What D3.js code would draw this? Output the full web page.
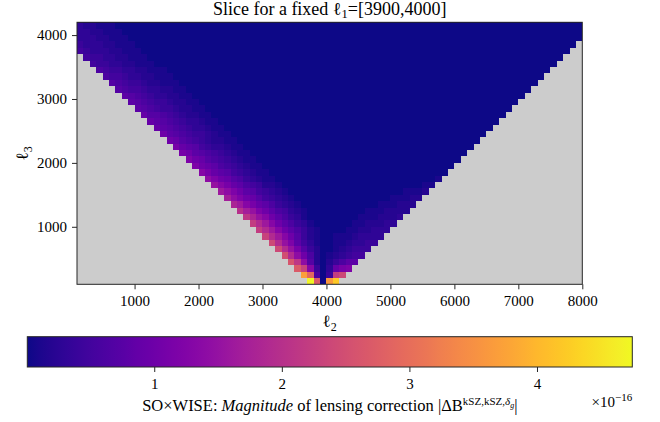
<!DOCTYPE html>
<html><head><meta charset="utf-8">
<script src="https://cdn.jsdelivr.net/npm/d3@7"></script>
<style>
body{margin:0;background:#fff}
svg{display:block}
text{font-family:"Liberation Serif","DejaVu Serif",serif;fill:#000}
</style>
</head><body>
<svg id="chart" width="660" height="422"></svg>
<script>
// ---- data -------------------------------------------------------------
// colour-scale limits (units of 1e-16)
const vmin = 0.005, vmax = 4.747;
// one character per cell: index in levelChars = value in tenths (x1e-16); "." = no valid triangle (grey)
const levelChars = "0123456789ABCDEFGHIJKLMNOPQRSTUVWXYZabcdefghijkl";
const ell2Range = [100, 8000];
const ell3Range = [100, 4200];
const binWidth = 100;
// rows from top (ell3 = 4100-4200) to bottom (ell3 = 100-200); "c{n}" = n repeats of c
const rows = [
  "322111000" + "0{70}",
  "3322111000" + "0{69}",
  "33322111000" + "0{68}",
  "433322111000" + "0{66}" + ".",
  "5433322111000" + "0{64}" + ".{2}",
  ".{1}5443322111000" + "0{62}" + ".{3}",
  ".{2}5443322111000" + "0{60}" + ".{4}",
  ".{3}6544332211100" + "0{58}" + ".{5}",
  ".{4}6554332211100" + "0{56}" + ".{6}",
  ".{5}7654432211100" + "0{54}" + ".{7}",
  ".{6}7655433221100" + "0{52}" + ".{8}",
  ".{7}8765433221100" + "0{50}" + ".{9}",
  ".{8}8765443221100" + "0{48}" + ".{10}",
  ".{9}8765443221100" + "0{46}" + ".{11}",
  ".{10}9776543221100" + "0{44}" + ".{12}",
  ".{11}9876543321100" + "0{42}" + ".{13}",
  ".{12}9876543321100" + "0{40}" + ".{14}",
  ".{13}A876544321100" + "0{38}" + ".{15}",
  ".{14}A97654322110" + "0{37}" + ".{16}",
  ".{15}B98754332110" + "0{35}" + ".{17}",
  ".{16}BA8765432110" + "0{33}" + ".{18}",
  ".{17}CA9765432110" + "0{31}" + ".{19}",
  ".{18}CA9865432110" + "0{29}" + ".{20}",
  ".{19}DB9875432110" + "0{27}" + ".{21}",
  ".{20}ECA976432110" + "0{24}1" + ".{22}",
  ".{21}FDB986542210" + "0{21}11" + ".{23}",
  ".{22}GECA87543210" + "0{17}1112" + ".{24}",
  ".{23}HECA97543210" + "0{14}11122" + ".{25}",
  ".{24}IGDB98643210" + "0{11}111222" + ".{26}",
  ".{25}KHFCA8653210" + "0{8}1112222" + ".{27}",
  ".{26}LIFDA86431000" + "000001112223" + ".{28}",
  ".{27}MJGDA8643100" + "00001122233" + ".{29}",
  ".{28}MJGDA864210" + "0001122333" + ".{30}",
  ".{29}NJGDA7421" + "0011123333" + ".{31}",
  ".{30}OJFC85310" + "01123344" + ".{32}",
  ".{31}OJFB7420" + "0123444" + ".{33}",
  ".{32}PJEA6201234" + "55" + ".{34}",
  ".{33}QLE72024688" + ".{35}",
  ".{34}RND4039BC" + ".{36}",
  ".{35}bT604MO" + ".{37}",
  ".{36}lR0ag" + ".{38}"
];
const xTicks = [1000, 2000, 3000, 4000, 5000, 6000, 7000, 8000];
const yTicks = [1000, 2000, 3000, 4000];
const cbarTicks = [1, 2, 3, 4];

// ---- layout -----------------------------------------------------------
const P = {l: 77, r: 582.3, t: 22.3, b: 284.3};
const CB = {l: 27.3, r: 632.3, t: 336.7, b: 367};
const ink = "#262626";

const svg = d3.select("#chart");
const x = d3.scaleLinear().domain(ell2Range).range([P.l, P.r]);
const y = d3.scaleLinear().domain(ell3Range).range([P.b, P.t]);
const color = d3.scaleSequential(d3.interpolatePlasma).domain([vmin, vmax]);

const expand = s => s.replace(/(.)\{(\d+)\}/g, (m, ch, n) => ch.repeat(+n));
const cells = [];
rows.forEach((s, i) => {
  const row = expand(s);
  if (row.length !== 79) console.warn("row", i, row.length);
  const l3 = ell3Range[1] - binWidth * (i + 1);
  [...row].forEach((ch, j) => {
    if (ch === ".") return;
    cells.push({l2: ell2Range[0] + binWidth * j, l3, v: levelChars.indexOf(ch) / 10});
  });
});

// grey background for invalid region
svg.append("rect").attr("x", P.l).attr("y", P.t)
  .attr("width", P.r - P.l).attr("height", P.b - P.t).attr("fill", "#cccccc");

svg.append("g").selectAll("rect").data(cells).join("rect")
  .attr("x", d => x(d.l2))
  .attr("y", d => y(d.l3 + binWidth))
  .attr("width", d => x(d.l2 + binWidth) - x(d.l2))
  .attr("height", d => y(d.l3) - y(d.l3 + binWidth))
  .attr("fill", d => color(Math.max(d.v, vmin)))
  .attr("shape-rendering", "crispEdges");

// axes
const fs = 15;
const xAxis = svg.append("g").attr("transform", `translate(0,${P.b})`)
  .call(d3.axisBottom(x).tickValues(xTicks).tickSize(5).tickPadding(6.5).tickFormat(d3.format("d")));
const yAxis = svg.append("g").attr("transform", `translate(${P.l},0)`)
  .call(d3.axisLeft(y).tickValues(yTicks).tickSize(5).tickPadding(5).tickFormat(d3.format("d")));
[xAxis, yAxis].forEach(g => {
  g.select(".domain").remove();
  g.selectAll("line").attr("stroke", ink).attr("stroke-width", 1);
  g.selectAll("text").attr("font-size", fs).attr("fill", "#000");
  g.attr("font-family", null);
});

svg.append("rect").attr("x", P.l).attr("y", P.t)
  .attr("width", P.r - P.l).attr("height", P.b - P.t)
  .attr("fill", "none").attr("stroke", ink).attr("stroke-width", 1);

// title
const title = svg.append("text").attr("x", (P.l + P.r) / 2).attr("y", 14.5)
  .attr("text-anchor", "middle").attr("font-size", 18);
title.append("tspan").text("Slice for a fixed ");
title.append("tspan").text("ℓ");
title.append("tspan").attr("dy", 3.5).attr("font-size", 12.5).text("1");
title.append("tspan").attr("dy", -3.5).text("=[3900,4000]");

// axis labels
const xl = svg.append("text").attr("x", (P.l + P.r) / 2).attr("y", 327)
  .attr("text-anchor", "middle").attr("font-size", 17);
xl.append("tspan").text("ℓ");
xl.append("tspan").attr("dy", 3.5).attr("font-size", 12).text("2");

const yl = svg.append("text").attr("transform", `translate(28,${(P.t + P.b) / 2}) rotate(-90)`)
  .attr("text-anchor", "middle").attr("font-size", 17);
yl.append("tspan").text("ℓ");
yl.append("tspan").attr("dy", 3.5).attr("font-size", 12).text("3");

// colorbar
const defs = svg.append("defs");
const grad = defs.append("linearGradient").attr("id", "cbgrad")
  .attr("x1", "0%").attr("x2", "100%").attr("y1", "0%").attr("y2", "0%");
d3.range(0, 1.0001, 0.02).forEach(t => {
  grad.append("stop").attr("offset", (t * 100) + "%").attr("stop-color", d3.interpolatePlasma(t));
});
svg.append("rect").attr("x", CB.l).attr("y", CB.t)
  .attr("width", CB.r - CB.l).attr("height", CB.b - CB.t)
  .attr("fill", "url(#cbgrad)").attr("stroke", ink).attr("stroke-width", 1);

const cx = d3.scaleLinear().domain([vmin, vmax]).range([CB.l, CB.r]);
const cAxis = svg.append("g").attr("transform", `translate(0,${CB.b})`)
  .call(d3.axisBottom(cx).tickValues(cbarTicks).tickSize(5).tickPadding(6.5).tickFormat(d3.format("d")));
cAxis.select(".domain").remove();
cAxis.selectAll("line").attr("stroke", ink);
cAxis.selectAll("text").attr("font-size", fs).attr("fill", "#000");
cAxis.attr("font-family", null);

const cl = svg.append("text").attr("x", (CB.l + CB.r) / 2).attr("y", 411)
  .attr("text-anchor", "middle").attr("font-size", 16.5);
cl.append("tspan").text("SO×WISE: ");
cl.append("tspan").attr("font-style", "italic").text("Magnitude");
cl.append("tspan").text(" of lensing correction |ΔB");
cl.append("tspan").attr("dy", -6).attr("font-size", 11).text("kSZ,kSZ,");
cl.append("tspan").attr("font-size", 11).attr("font-style", "italic").text("δ");
cl.append("tspan").attr("dy", 2.5).attr("font-size", 8).attr("font-style", "italic").text("g");
cl.append("tspan").attr("dy", 3.5).attr("font-size", 16.5).text("|");

const off = svg.append("text").attr("x", CB.r).attr("y", 406.7)
  .attr("text-anchor", "end").attr("font-size", 15);
off.append("tspan").text("×10");
off.append("tspan").attr("dy", -6).attr("font-size", 11).text("−16");
</script>
</body></html>
